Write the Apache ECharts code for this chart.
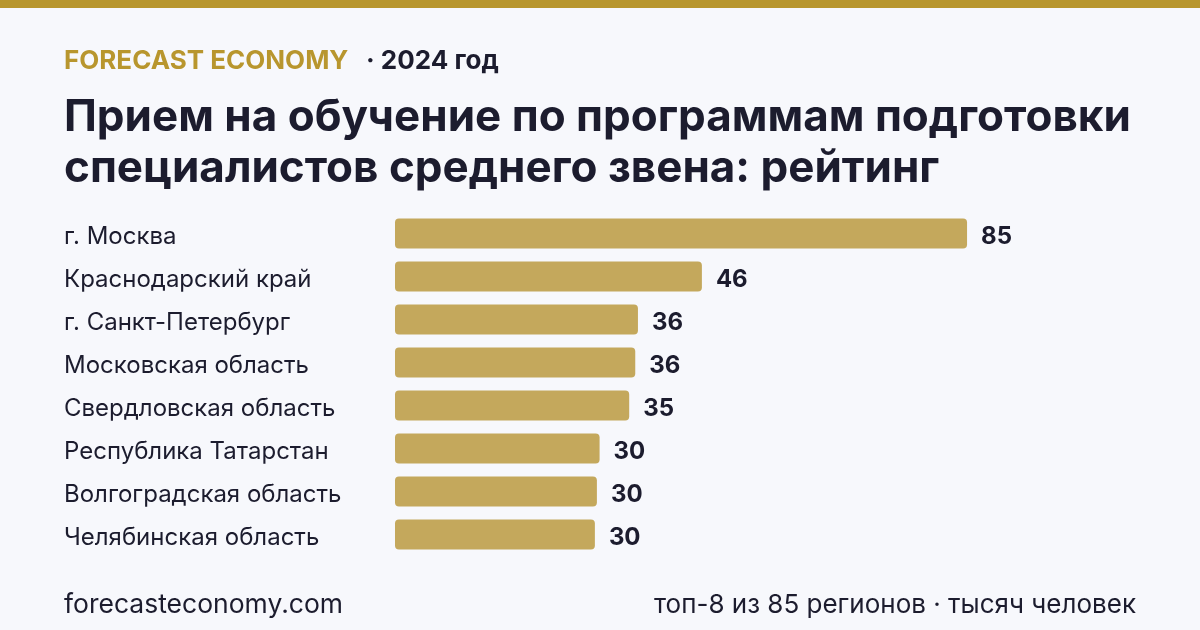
<!DOCTYPE html>
<html>
<head>
  <meta charset="UTF-8">
  <title>Прием на обучение</title>
  <script src="https://cdn.jsdelivr.net/npm/echarts@6/dist/echarts.min.js"></script>
  <style>
    html, body { margin: 0; padding: 0; background: #f7f8fc; }
    #chart { width: 1200px; height: 630px; }
  </style>
</head>
<body>
  <div id="chart"></div>
  <script>
    // регионы и значения (тыс. человек), сверху вниз
    const regions = [
      'г. Москва',
      'Краснодарский край',
      'г. Санкт-Петербург',
      'Московская область',
      'Свердловская область',
      'Республика Татарстан',
      'Волгоградская область',
      'Челябинская область'
    ];
    const values = [85.0, 45.6, 36.1, 35.7, 34.8, 30.4, 30.0, 29.7];

    const FONT = 'Inter, "Noto Sans", sans-serif';
    const DARK = '#1c1c2e';
    const GOLD = '#b8962e';

    const chart = echarts.init(document.getElementById('chart'));

    chart.setOption({
      backgroundColor: '#f7f8fc',
      animation: false,
      graphic: [
        { type: 'rect', left: 0, top: 0, shape: { width: 1200, height: 8 }, style: { fill: GOLD } },
        { type: 'text', left: 64, top: 48, style: { text: 'FORECAST ECONOMY', fill: GOLD, font: 'bold 26px ' + FONT } },
        { type: 'text', left: 366, top: 48, style: { text: '· 2024 год', fill: DARK, font: 'bold 26px ' + FONT } },
        { type: 'text', left: 64, top: 92, style: {
            text: 'Прием на обучение по программам подготовки\nспециалистов среднего звена: рейтинг',
            fill: DARK, font: 'bold 44px ' + FONT, lineHeight: 51 } },
        { type: 'text', left: 64, top: 592, style: { text: 'forecasteconomy.com', fill: DARK, font: '26.5px ' + FONT } },
        { type: 'text', right: 64, top: 592, style: { text: 'топ-8 из 85 регионов · тысяч человек', fill: DARK, font: '26px ' + FONT } }
      ],
      grid: { left: 395, right: 132, top: 212, height: 344, containLabel: false },
      xAxis: {
        type: 'value', min: 0, max: 100,
        show: false
      },
      yAxis: {
        type: 'category',
        data: regions,
        inverse: true,
        axisLine: { show: false },
        axisTick: { show: false },
        axisLabel: {
          margin: 331,
          align: 'left',
          formatter: v => '{n|' + v + '}',
          rich: {
            n: {
              color: DARK,
              fontFamily: FONT,
              fontSize: 24,
              padding: [6, 0, 0, 0]
            }
          }
        }
      },
      series: [{
        type: 'bar',
        data: values,
        barWidth: 30,
        itemStyle: { color: '#c4a85c', borderRadius: 4 },
        label: {
          show: true,
          position: 'right',
          distance: 14,
          offset: [0, 3],
          color: DARK,
          fontFamily: FONT,
          fontWeight: 'bold',
          fontSize: 24,
          formatter: p => Math.round(p.value)
        }
      }]
    });
  </script>
</body>
</html>
